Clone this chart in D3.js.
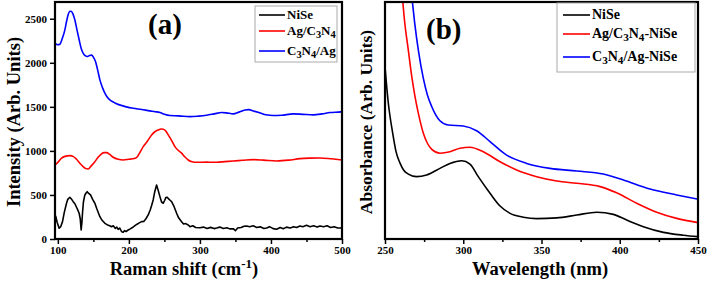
<!DOCTYPE html>
<html>
<head>
<meta charset="utf-8">
<script src="https://cdn.jsdelivr.net/npm/d3@7"></script>
<style>
  html, body { margin: 0; padding: 0; background: #fff; }
  svg { display: block; }
  text { font-family: "Liberation Serif", "DejaVu Serif", serif; font-weight: bold; }
</style>
</head>
<body>
<svg id="chart" width="709" height="281"></svg>
<script>
// ── Panel (a): Raman spectra, [shift cm-1, intensity] ──
const ramanNiSe = [
  [96,270],[97.2,253],[99,190],[101.8,122],[104,140],[106.6,197],[109,300],[112.2,406],[114,450],[116.9,474],
  [119,455],[121.6,424],[124,400],[126.3,360],[128,330],[130,292],[131.5,230],[132.8,102],[133.8,180],[134.7,292],
  [136,420],[138,500],[140,525],[141.3,537],[143,520],[146,500],[149,450],[152.1,406],[155,340],[159.2,253],
  [162,215],[166.2,178],[170,160],[173,150],[175.6,140],[178,150],[181,120],[183,135],[184.9,110],[187,125],
  [189,95],[190.5,80],[192,76],[194,95],[196,85],[199,102],[202,115],[205,130],[208.5,151],[211,165],
  [214,180],[217.9,197],[221,200],[224,230],[227.2,273],[230,330],[232,380],[234.2,443],[236.5,540],[239,613],
  [241,560],[243.7,481],[246,420],[248.4,406],[250.5,440],[252,470],[254,474],[256,455],[258,440],[260.1,424],
  [263,380],[267.2,292],[270,240],[274.2,197],[277,170],[280,175],[283.5,159],[286,140],[290,150],[294,130],
  [300,128],[305,135],[310,120],[315,132],[320,118],[323.5,125],[328,135],[333,120],[338,128],[342,115],
  [346.9,117],[350,95],[353,125],[358,130],[362,145],[365.7,148],[370,140],[375,150],[380,130],[385,138],
  [390,120],[393.9,125],[398,140],[403,118],[408,110],[413,130],[417.3,117],[422,135],[427,125],[432,140],
  [436,130],[440.8,148],[445,140],[450,155],[455,140],[460,150],[465,135],[469,148],[474,140],[479,150],
  [484,130],[489,140],[494,125],[498.2,125],[500,130]
];
const ramanAgC3N4 = [
  [96,841],[100,870],[105.2,917],[110,938],[116.9,946],[122,935],[126.3,905],[131,860],[135.6,822],[139,800],
  [142.7,795],[147,830],[152.1,878],[157,930],[161.5,966],[165,980],[168.6,980],[173,960],[177.9,928],[185,905],
  [192,897],[200,905],[205,910],[210.8,924],[215,975],[220.2,1049],[226,1110],[232,1181],[237,1220],[241.3,1238],
  [245,1248],[248.4,1246],[252,1225],[255.4,1181],[260,1120],[264.8,1049],[269,1010],[274.2,974],[279,930],[283.5,897],
  [289,877],[295.3,871],[310,872],[323.5,871],[335,878],[346.9,886],[360,893],[375.1,901],[390,895],[408,886],
  [425,895],[440.8,912],[455,918],[469,920],[485,910],[500,897]
];
const ramanC3N4Ag = [
  [96,2215],[100,2205],[102.8,2211],[106,2270],[109.9,2374],[112,2460],[114.5,2545],[117,2585],[119.2,2582],[121.5,2550],
  [123.9,2488],[127,2370],[130,2261],[133,2160],[135.6,2110],[138.5,2080],[141.3,2071],[144,2080],[147.4,2087],[150,2065],
  [153,2014],[156,1920],[159.2,1806],[163,1715],[166.2,1655],[170,1605],[173.2,1579],[178,1555],[182.6,1534],[190,1515],
  [198,1497],[206,1485],[218,1470],[229.6,1454],[237,1445],[243.7,1435],[250,1415],[257.7,1401],[270,1398],[285.9,1389],
  [298,1395],[309.4,1405],[320,1420],[330.5,1435],[337,1432],[346.9,1420],[355,1440],[363.4,1465],[369,1468],[375.1,1454],
  [385,1430],[393,1410],[403.2,1401],[415,1405],[431.4,1420],[445,1415],[459.6,1409],[472,1420],[483.1,1435],[498.2,1443],[500,1445]
];

// ── Panel (b): UV-vis absorbance, [wavelength nm, absorbance arb.] ──
const uvNiSe = [
  [250,72.6],[252,58],[254.9,44.7],[257,37],[259.6,32],[262,29],[264.9,27.4],[270.2,26.3],[276.6,27],[285.1,29.8],
  [291.5,31.9],[299,33],[304.3,31.6],[309.6,26.3],[317.1,19.3],[323.5,13.9],[329.9,10.8],[338.4,9.2],[346.9,8.6],[359.7,8.9],
  [372.5,10.1],[385.3,11.3],[395.9,10.4],[404.4,8],[415.1,5.2],[427.9,2.8],[440.6,1.6],[450,1]
];
const uvAgC3N4NiSe = [
  [261,103],[262.5,92],[264.9,79.7],[267,69],[269.2,60],[272,51],[274.5,44.6],[277,40.5],[279.9,37.8],[285.1,36.2],
  [291.5,36.8],[297.9,38.3],[304.3,38.7],[312.8,36.8],[323.5,32.6],[334.1,29.1],[346.9,26.3],[359.7,24.5],[372.5,23.5],[387.4,22.1],
  [398,19.5],[410.8,15.1],[423.6,11.3],[436.4,8.7],[450,6.9]
];
const uvC3N4AgNiSe = [
  [267,103],[269,91],[271.3,79.7],[274.5,67.8],[277,61],[279.9,55.8],[282.5,52.3],[285.1,49.9],[290.4,48.1],[300,47.7],
  [308.5,45.7],[317.1,41.1],[327.7,35.4],[340.5,31.9],[355.4,29.8],[372.5,28.7],[389.5,27.4],[402.3,24.9],[419.3,21.1],[436.4,18.6],[450,16.8]
];

const ramanXTicks = [100, 200, 300, 400, 500];
const ramanYTicks = [0, 500, 1000, 1500, 2000, 2500];
const uvXTicks = [250, 300, 350, 400, 450];

const ramanLegend = ['NiSe', 'Ag/C3N4', 'C3N4/Ag'];
const uvLegend = ['NiSe', 'Ag/C3N4-NiSe', 'C3N4/Ag-NiSe'];
const seriesColors = ['#000000', '#ff0000', '#0000ff'];

const svg = d3.select('#chart');

// write labels like C3N4 with real subscripts
function chemText(sel, str) {
  const parts = str.split(/(\d)/).filter(s => s.length);
  parts.forEach(p => {
    if (/^\d$/.test(p)) {
      sel.append('tspan').attr('baseline-shift', '-30%').attr('font-size', '0.8em').text(p);
    } else {
      sel.append('tspan').text(p);
    }
  });
}

function drawPanel(cfg) {
  const x = d3.scaleLinear().domain(cfg.xDomain).range([cfg.left, cfg.right]);
  const y = d3.scaleLinear().domain(cfg.yDomain).range([cfg.bottom, cfg.top]);
  const g = svg.append('g');

  const clipId = 'clip-' + cfg.name;
  svg.append('clipPath').attr('id', clipId)
    .append('rect')
    .attr('x', cfg.left).attr('y', cfg.top)
    .attr('width', cfg.right - cfg.left).attr('height', cfg.bottom - cfg.top);

  // data lines
  const line = d3.line().x(d => x(d[0])).y(d => y(d[1]));
  const gl = g.append('g').attr('clip-path', `url(#${clipId})`);
  cfg.series.forEach((s, i) => {
    gl.append('path')
      .datum(s)
      .attr('d', line.curve(cfg.curves[i])(s))
      .attr('fill', 'none')
      .attr('stroke', seriesColors[i])
      .attr('stroke-width', 1.6)
      .attr('stroke-linejoin', 'round');
  });

  // x axis: majors with labels, minors in between
  g.append('g').attr('transform', `translate(0,${cfg.bottom})`)
    .call(d3.axisBottom(x).tickValues(cfg.xTicks).tickSize(5).tickPadding(2).tickFormat(d3.format('d')));
  g.append('g').attr('transform', `translate(0,${cfg.bottom})`)
    .call(d3.axisBottom(x).tickValues(cfg.xMinor).tickSize(3).tickFormat(''))
    .select('.domain').remove();

  if (cfg.yTicks) {
    g.append('g').attr('transform', `translate(${cfg.left},0)`)
      .call(d3.axisLeft(y).tickValues(cfg.yTicks).tickSize(5).tickPadding(3).tickFormat(d3.format('d')));
  }
  g.selectAll('.tick text').attr('font-size', 11).attr('font-family', '"Liberation Serif", serif').attr('font-weight', 'bold').attr('fill', '#000');
  g.selectAll('.tick line').attr('stroke', '#000').attr('stroke-width', 1.5);
  g.selectAll('.domain').remove();

  // frame
  g.append('rect')
    .attr('x', cfg.left).attr('y', cfg.top)
    .attr('width', cfg.right - cfg.left).attr('height', cfg.bottom - cfg.top)
    .attr('fill', 'none').attr('stroke', '#000').attr('stroke-width', 2.2);

  // panel tag
  g.append('text').attr('x', cfg.tagX).attr('y', cfg.tagY)
    .attr('font-size', 29).text(cfg.tag);

  // axis titles
  const xt = g.append('text').attr('x', cfg.xTitleX).attr('y', 275)
    .attr('text-anchor', 'middle').attr('font-size', 18.5);
  xt.append('tspan').text(cfg.xTitle);
  if (cfg.xTitleSup) {
    xt.append('tspan').attr('baseline-shift', 'super').attr('font-size', 13).text(cfg.xTitleSup);
    xt.append('tspan').text(')');
  }
  g.append('text')
    .attr('transform', `translate(${cfg.yTitleX},${cfg.yTitleY}) rotate(-90)`)
    .attr('text-anchor', 'middle').attr('font-size', cfg.yTitleSize).text(cfg.yTitle);

  // legend
  const lg = g.append('g');
  lg.append('rect')
    .attr('x', cfg.legend.x).attr('y', cfg.legend.y)
    .attr('width', cfg.legend.w).attr('height', cfg.legend.h)
    .attr('fill', '#fff').attr('stroke', '#aaa').attr('stroke-width', 1);
  cfg.legendNames.forEach((name, i) => {
    const ly = cfg.legend.rows[i];
    lg.append('line')
      .attr('x1', cfg.legend.lx1).attr('x2', cfg.legend.lx2)
      .attr('y1', ly).attr('y2', ly)
      .attr('stroke', seriesColors[i]).attr('stroke-width', 1.6);
    const t = lg.append('text').attr('x', cfg.legend.lx2 + 2).attr('y', ly + 4)
      .attr('font-size', cfg.legend.fs);
    chemText(t, name);
  });
}

drawPanel({
  name: 'a',
  xDomain: [96, 500], yDomain: [0, 2690],
  left: 55, right: 342, top: 2, bottom: 239,
  series: [ramanNiSe, ramanAgC3N4, ramanC3N4Ag],
  curves: [d3.curveLinear, d3.curveMonotoneX, d3.curveMonotoneX],
  xTicks: ramanXTicks, xMinor: [150, 250, 350, 450],
  yTicks: ramanYTicks,
  tag: '(a)', tagX: 148, tagY: 34,
  xTitle: 'Raman shift (cm', xTitleSup: '-1', xTitleX: 184,
  yTitle: 'Intensity (Arb. Units)', yTitleX: 20, yTitleY: 122, yTitleSize: 18.5,
  legendNames: ramanLegend,
  legend: { x: 255, y: 6, w: 82, h: 56, lx1: 259, lx2: 285, rows: [15, 31, 51], fs: 13 }
});

drawPanel({
  name: 'b',
  xDomain: [250, 450], yDomain: [0, 100],
  left: 385, right: 698, top: 2, bottom: 239,
  series: [uvNiSe, uvAgC3N4NiSe, uvC3N4AgNiSe],
  curves: [d3.curveMonotoneX, d3.curveMonotoneX, d3.curveMonotoneX],
  xTicks: uvXTicks, xMinor: [275, 325, 375, 425],
  yTicks: null,
  tag: '(b)', tagX: 426, tagY: 39,
  xTitle: 'Wavelength (nm)', xTitleSup: null, xTitleX: 540,
  yTitle: 'Absorbance (Arb. Units)', yTitleX: 372, yTitleY: 122, yTitleSize: 17.5,
  legendNames: uvLegend,
  legend: { x: 557, y: 3, w: 138, h: 69, lx1: 563, lx2: 590, rows: [15, 34, 57], fs: 14 }
});
</script>
</body>
</html>
